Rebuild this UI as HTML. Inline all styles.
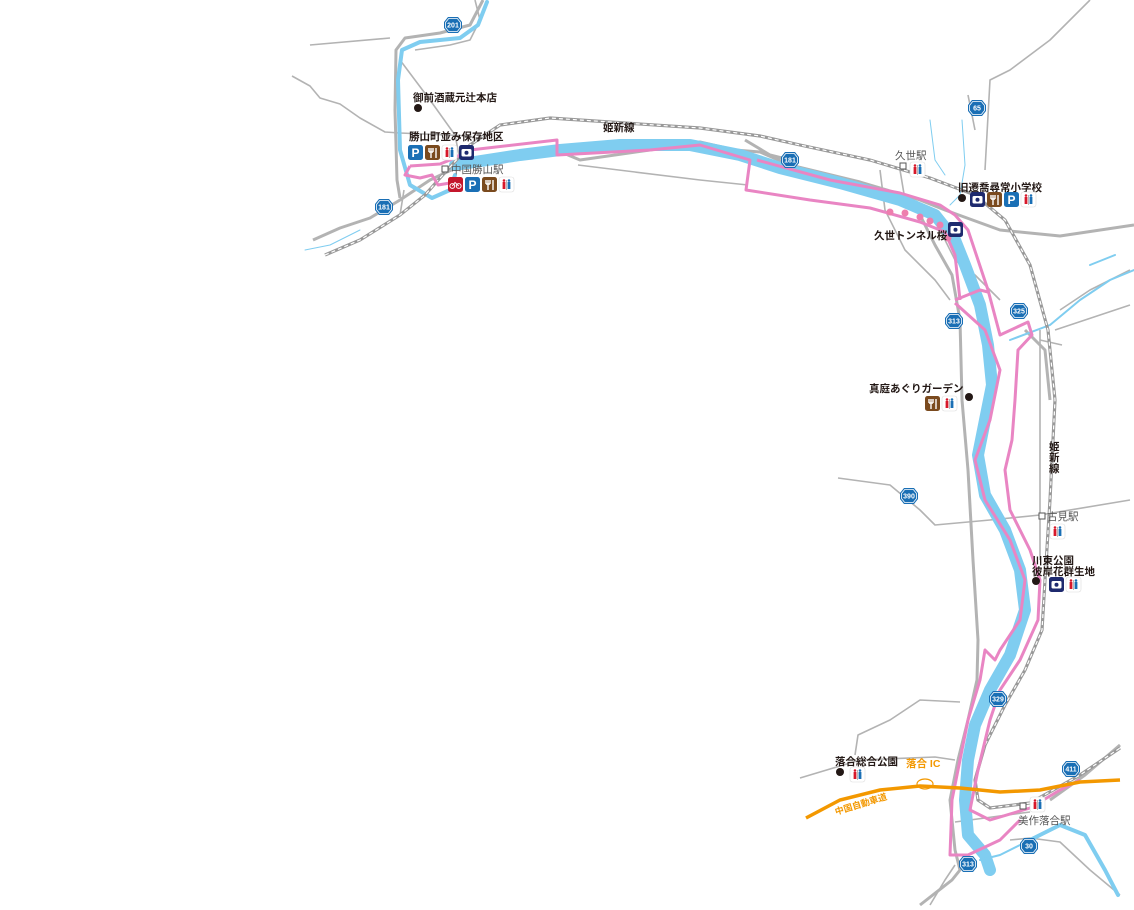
<!DOCTYPE html>
<html><head><meta charset="utf-8">
<style>
html,body{margin:0;padding:0;background:#fff;}
svg{display:block;}
text{font-family:"Liberation Sans","Noto Sans CJK JP",sans-serif;}
.lb{font-size:10.5px;font-weight:bold;fill:#231815;}
.st{font-size:10.5px;fill:#555;}
.sh{font-size:7px;fill:#fff;text-anchor:middle;font-weight:bold;}
</style></head><body>
<svg width="1134" height="910" viewBox="0 0 1134 910" xmlns="http://www.w3.org/2000/svg">
<defs>
<g id="shield"><polygon points="-9,-3 -5,-8 5,-8 9,-3 9,3 5,8 -5,8 -9,3" fill="#1a6fb5"/><polygon points="-7.5,-2.5 -4.3,-6.5 4.3,-6.5 7.5,-2.5 7.5,2.5 4.3,6.5 -4.3,6.5 -7.5,2.5" fill="none" stroke="#fff" stroke-width="0.8"/></g>
<g id="P"><rect width="15" height="15" rx="2.5" fill="#1a6fb5"/><text x="7.5" y="12" font-size="12" font-weight="bold" fill="#fff" text-anchor="middle" style="font-family:'Liberation Sans',sans-serif">P</text></g>
<g id="F"><rect width="15" height="15" rx="2.5" fill="#7a4a1e"/><path d="M4,3v4M6,3v4M8,3v4M4,7h4M6,7v6M11,3v10" stroke="#fff" stroke-width="1.4"/></g>
<g id="T"><rect width="15" height="15" rx="2.5" fill="#fff" stroke="#ddd" stroke-width="0.6"/><circle cx="5" cy="3.5" r="1.3" fill="#d7182a"/><rect x="3.6" y="5" width="2.8" height="7" fill="#d7182a"/><line x1="7.5" y1="3" x2="7.5" y2="13" stroke="#888" stroke-width="0.6"/><circle cx="10" cy="3.5" r="1.3" fill="#1a6fb5"/><rect x="8.6" y="5" width="2.8" height="7" fill="#1a6fb5"/></g>
<g id="C"><rect width="15" height="15" rx="2.5" fill="#1e2a6e"/><rect x="2.5" y="4" width="10" height="7.5" rx="1.5" fill="#fff"/><circle cx="7.5" cy="7.8" r="2" fill="#1e2a6e"/></g>
<g id="B"><rect width="15" height="15" rx="2.5" fill="#c4172c"/><circle cx="4.3" cy="9" r="2.4" fill="none" stroke="#fff" stroke-width="1"/><circle cx="10.7" cy="9" r="2.4" fill="none" stroke="#fff" stroke-width="1"/><path d="M4.3,9L7,5.5L10.7,9" fill="none" stroke="#fff"/></g>
</defs>

<!-- minor roads -->
<g fill="none" stroke="#b3b3b3" stroke-width="1.6" stroke-linejoin="round">
<path d="M292,76L310,86L320,98L340,104L360,118L385,132L400,133L470,136"/>
<path d="M310,45L390,38"/>
<path d="M475,0L480,20L470,40L450,45L415,50"/>
<path d="M400,60L430,100L455,135L460,160"/>
<path d="M404,190L400,215"/>
<path d="M578,165L700,180L748,185"/>
<path d="M1090,0L1050,40L1010,70L990,80L985,170"/>
<path d="M968,95L975,130"/>
<path d="M880,170L885,210L905,250L935,280L950,300"/>
<path d="M900,170L905,200"/>
<path d="M940,230L955,260L975,275L1000,300"/>
<path d="M1040,330L1040,360L1040,560"/>
<path d="M1060,310L1090,290L1130,270"/>
<path d="M1055,330L1130,305"/>
<path d="M1040,340L1062,345"/>
<path d="M838,478L890,485L920,510L935,525L990,520L1040,515L1130,500"/>
<path d="M855,755L858,735L890,720L920,700L960,702"/>
<path d="M800,778L860,760L935,757L955,760"/>
<path d="M955,822L1030,812"/>
<path d="M930,905L945,880L955,865"/>
<path d="M1010,840L1030,838L1060,842L1090,870L1120,895"/>
</g>
<!-- major roads -->
<g fill="none" stroke="#b3b3b3" stroke-width="3" stroke-linejoin="round">
<path d="M483,0L470,25L440,33L405,38L396,50L395,110L397,180L400,198"/>
<path d="M462,165L430,180L400,200L370,218L340,228L313,240"/>
<path d="M556,150L580,160L650,150L700,142L735,150L760,152L790,165L860,182L920,200L945,210L1000,230L1060,236L1134,225"/>
<path d="M745,140L770,155L790,160"/>
<path d="M920,215L935,245L952,275L960,320L962,400L968,470L973,560L978,640L977,680L968,720L958,760L950,800L955,850L960,870L952,880L920,905"/>
<path d="M1025,330L1045,350L1050,400"/>
<path d="M1050,800L1085,775L1120,745"/>
</g>
<!-- rivers -->
<g fill="none" stroke="#7fcdf0" stroke-linejoin="round" stroke-linecap="round">
<path d="M487,2L478,25L460,38L420,42L402,50L398,80L400,150L410,185L432,198L450,190L455,175" stroke-width="4"/>
<path d="M455,165L520,155L560,150L620,145L690,145L740,155L780,168L840,183L900,200L935,215L955,240L965,265L980,305L988,345L992,385L985,420L978,455L985,495L1005,530L1020,570L1025,610L1010,655L990,690L975,725L968,760L965,800L968,835L985,855L990,870" stroke-width="12"/>
<path d="M930,120L935,160L945,175" stroke-width="1"/>
<path d="M962,120L965,165L960,195L950,205" stroke-width="1"/>
<path d="M1010,340L1050,325L1080,300L1110,280L1134,270" stroke-width="2"/>
<path d="M1090,265L1115,255" stroke-width="2"/>
<path d="M1030,840L1060,825L1085,835L1105,870L1118,895" stroke-width="4"/>
<path d="M980,860L1000,855L1020,845" stroke-width="2"/>
<path d="M305,250L330,245L360,230" stroke-width="1"/>
</g>
<!-- railway -->
<path d="M325,255L360,240L400,215L425,195L440,178L470,145L500,125L550,118L610,122L700,128L760,136L800,145L870,160L930,178L975,195L1005,220L1030,265L1048,330L1055,400L1050,500L1045,580L1042,630L1025,670L1005,705L985,745L975,780L978,800L990,808L1030,803L1080,775L1120,748" fill="none" stroke="#999" stroke-width="3.2"/>
<path d="M325,255L360,240L400,215L425,195L440,178L470,145L500,125L550,118L610,122L700,128L760,136L800,145L870,160L930,178L975,195L1005,220L1030,265L1048,330L1055,400L1050,500L1045,580L1042,630L1025,670L1005,705L985,745L975,780L978,800L990,808L1030,803L1080,775L1120,748" fill="none" stroke="#fff" stroke-width="1.2" stroke-dasharray="4,3"/>
<!-- pink route -->
<g fill="none" stroke="#e985c3" stroke-width="3" stroke-linejoin="round">
<path d="M410,166L440,164L450,160L470,150L557,140L557,155L650,150L700,145L750,160L746,190L810,200L870,208L920,222L945,232L955,255L960,300"/>
<path d="M757,160L830,180L900,193L940,205L955,215L968,230L978,260L988,290L1000,335L1028,322L1032,335L1018,350L1015,400L1012,440L1005,470L1010,510L1030,550L1040,580L1038,620L1020,660L1000,690L990,720L978,770L970,810L990,820L1030,808L1060,790L1080,780"/>
<path d="M955,300L980,290L988,292"/>
<path d="M955,303L985,330L1000,370L990,420L975,460L985,500L1010,540L1025,580L1020,620L1000,650L995,660L985,650L980,680L968,720L960,760L952,800L950,855L968,855L1000,840L1020,820"/>
<path d="M410,166L405,175L420,178L432,175L438,185L450,183"/>
</g>
<!-- cherry blossoms -->
<g fill="#ee7eae">
<circle cx="890" cy="212" r="3.5"/><circle cx="905" cy="213" r="3.5"/><circle cx="920" cy="217" r="3.5"/><circle cx="930" cy="221" r="3.5"/><circle cx="940" cy="225" r="3.5"/><circle cx="948" cy="238" r="3.5"/>
</g>
<!-- expressway -->
<path d="M806,818L840,800L880,790L920,786L960,788L1000,792L1040,790L1080,782L1120,780" fill="none" stroke="#f39800" stroke-width="3.5"/>
<ellipse cx="925" cy="784" rx="8" ry="5" fill="none" stroke="#f39800" stroke-width="1.2"/>
<!-- shields -->
<g><use href="#shield" x="453" y="25"/><text class="sh" x="453" y="27.5">201</text>
<use href="#shield" x="384" y="207"/><text class="sh" x="384" y="209.5">181</text>
<use href="#shield" x="790" y="160"/><text class="sh" x="790" y="162.5">181</text>
<use href="#shield" x="977" y="108"/><text class="sh" x="977" y="110.5">65</text>
<use href="#shield" x="954" y="321"/><text class="sh" x="954" y="323.5">313</text>
<use href="#shield" x="1019" y="311"/><text class="sh" x="1019" y="313.5">325</text>
<use href="#shield" x="909" y="496"/><text class="sh" x="909" y="498.5">390</text>
<use href="#shield" x="998" y="699"/><text class="sh" x="998" y="701.5">329</text>
<use href="#shield" x="1071" y="769"/><text class="sh" x="1071" y="771.5">411</text>
<use href="#shield" x="1029" y="846"/><text class="sh" x="1029" y="848.5">30</text>
<use href="#shield" x="968" y="864"/><text class="sh" x="968" y="866.5">313</text></g>
<!-- labels & POIs -->
<circle cx="418" cy="108" r="4" fill="#231815"/>
<text class="lb" x="413" y="101">御前酒蔵元辻本店</text>
<text class="lb" x="409" y="140">勝山町並み保存地区</text>
<use href="#P" x="408" y="145"/><use href="#F" x="425" y="145"/><use href="#T" x="442" y="145"/><use href="#C" x="459" y="145"/>
<rect x="442" y="166" width="6" height="6" fill="#fff" stroke="#555"/>
<text class="st" x="451" y="173">中国勝山駅</text>
<use href="#B" x="448" y="177"/><use href="#P" x="465" y="177"/><use href="#F" x="482" y="177"/><use href="#T" x="499" y="177"/>
<text class="lb" x="603" y="131" font-weight="bold">姫新線</text>
<text class="st" x="895" y="159">久世駅</text>
<rect x="900" y="163" width="6" height="6" fill="#fff" stroke="#555"/>
<use href="#T" x="910" y="162"/>
<text class="lb" x="958" y="191">旧遷喬尋常小学校</text>
<circle cx="962" cy="198" r="4" fill="#231815"/>
<use href="#C" x="970" y="192"/><use href="#F" x="987" y="192"/><use href="#P" x="1004" y="192"/><use href="#T" x="1021" y="192"/>
<text class="lb" x="874" y="239">久世トンネル桜</text>
<use href="#C" x="948" y="222"/>
<text class="lb" x="869" y="392">真庭あぐりガーデン</text>
<circle cx="969" cy="397" r="4" fill="#231815"/>
<use href="#F" x="925" y="396"/><use href="#T" x="942" y="396"/>
<text class="lb" x="1049" y="450" font-size="10">姫</text><text class="lb" x="1049" y="461">新</text><text class="lb" x="1049" y="472">線</text>
<rect x="1039" y="513" width="6" height="6" fill="#fff" stroke="#555"/>
<text class="st" x="1047" y="520">古見駅</text>
<use href="#T" x="1050" y="524"/>
<text class="lb" x="1032" y="564">川東公園</text>
<text class="lb" x="1032" y="575">彼岸花群生地</text>
<circle cx="1036" cy="581" r="4" fill="#231815"/>
<use href="#C" x="1049" y="577"/><use href="#T" x="1066" y="577"/>
<text class="lb" x="835" y="765">落合総合公園</text>
<circle cx="840" cy="772" r="4" fill="#231815"/>
<use href="#T" x="850" y="767"/>
<text x="906" y="767" font-size="10.5" font-weight="bold" fill="#f39800">落合 IC</text>
<text x="836" y="815" font-size="9" font-weight="bold" fill="#f39800" transform="rotate(-17 836 815)">中国自動車道</text>
<rect x="1020" y="803" width="6" height="6" fill="#fff" stroke="#555"/>
<use href="#T" x="1030" y="797"/>
<text class="st" x="1018" y="824">美作落合駅</text>
</svg>
</body></html>
